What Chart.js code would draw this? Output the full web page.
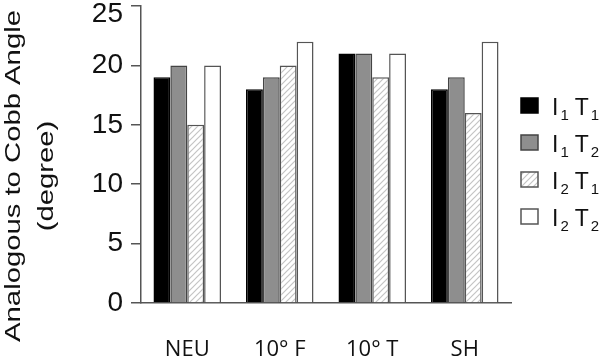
<!DOCTYPE html>
<html>
<head>
<meta charset="utf-8">
<script src="https://cdn.jsdelivr.net/npm/chart.js@4/dist/chart.umd.min.js"></script>
<style>
  body { margin: 0; background: #fff; }
  canvas { display: block; }
</style>
</head>
<body>
<canvas id="graphic" width="600" height="360"></canvas>
<script>
const categories = ['NEU', '10° F', '10° T', 'SH'];
const seriesNames = ['I1 T1', 'I1 T2', 'I2 T1', 'I2 T2'];
const i1t1 = [19, 18, 21, 18];
const i1t2 = [20, 19, 21, 19];
const i2t1 = [15, 20, 19, 16];
const i2t2 = [20, 22, 21, 22];
const yTicks = [0, 5, 10, 15, 20, 25];
const yTitle = ['Analogous to Cobb Angle', '(degree)'];

// light diagonal hatch for the I2 T1 bars
function makeHatch() {
  const c = document.createElement('canvas');
  c.width = 6;
  c.height = 6;
  const g = c.getContext('2d');
  g.fillStyle = '#fff';
  g.fillRect(0, 0, 6, 6);
  g.strokeStyle = '#c4c4c4';
  g.lineWidth = 1.2;
  g.beginPath();
  g.moveTo(-1, 7); g.lineTo(7, -1);
  g.moveTo(-4, 4); g.lineTo(4, -4);
  g.moveTo(2, 10); g.lineTo(10, 2);
  g.stroke();
  return g.createPattern(c, 'repeat');
}
const hatch = makeHatch();

const fills = ['#000000', '#8e8e8e', hatch, '#ffffff'];
const borders = ['#000000', '#444444', '#555555', '#555555'];
const values = [i1t1, i1t2, i2t1, i2t2];

// y title, two lines, drawn a bit wide like the original
const titlePlugin = {
  id: 'yTitle',
  afterDraw(chart) {
    const ctx = chart.ctx;
    const cy = 176;
    const baselines = [20, 53];
    ctx.save();
    ctx.fillStyle = '#111';
    ctx.font = '22px "Liberation Sans", Arial, sans-serif';
    ctx.textAlign = 'center';
    ctx.textBaseline = 'alphabetic';
    yTitle.forEach((line, i) => {
      ctx.save();
      ctx.translate(baselines[i], cy);
      ctx.rotate(-Math.PI / 2);
      ctx.scale(1.33, 1);
      ctx.fillText(line, 0, 0);
      ctx.restore();
    });
    ctx.restore();
  }
};

// legend with subscript digits
const legendPlugin = {
  id: 'subLegend',
  afterDraw(chart) {
    const ctx = chart.ctx;
    ctx.save();
    chart.data.datasets.forEach((ds, i) => {
      const top = 98 + i * 37;
      ctx.fillStyle = ds.backgroundColor;
      ctx.fillRect(521, top, 17, 15);
      ctx.strokeStyle = ds.borderColor;
      ctx.lineWidth = 1.5;
      ctx.strokeRect(521, top, 17, 15);

      let x = 552;
      const base = top + 17;
      ctx.fillStyle = '#111';
      ctx.textBaseline = 'alphabetic';
      ctx.textAlign = 'left';
      ds.label.split(' ').forEach((part) => {
        ctx.font = '23px "Liberation Sans", Arial, sans-serif';
        ctx.fillText(part[0], x, base);
        x += ctx.measureText(part[0]).width + 2;
        ctx.font = '15px "Liberation Sans", Arial, sans-serif';
        ctx.fillText(part.slice(1), x, base + 5);
        x += ctx.measureText(part.slice(1)).width + 6;
      });
    });
    ctx.restore();
  }
};

const tickFont = { family: '"Liberation Sans", Arial, sans-serif', size: 28 };

const graphicControler = new Chart(document.getElementById('graphic'), {
  type: 'bar',
  data: {
    labels: categories,
    datasets: seriesNames.map((name, i) => ({
      label: name,
      data: values[i],
      backgroundColor: fills[i],
      borderColor: borders[i],
      borderWidth: 1.5,
      barPercentage: 1,
      categoryPercentage: 0.73,
    })),
  },
  options: {
    responsive: false,
    animation: false,
    devicePixelRatio: 1,
    layout: { padding: { top: 6, right: 89, left: 0, bottom: 0 } },
    plugins: {
      legend: { display: false },
      tooltip: { enabled: false },
    },
    scales: {
      x: {
        grid: { display: false, drawTicks: false },
        border: { color: '#555', width: 1.5 },
        ticks: {
          color: '#111',
          padding: 34,
          font: { family: '"Open Sans", "Noto Sans", sans-serif', size: 22 },
        },
        afterFit(axis) { axis.height = 57; },
      },
      y: {
        min: yTicks[0],
        max: yTicks[yTicks.length - 1],
        grid: { drawOnChartArea: false, tickLength: 10, color: '#555', lineWidth: 1.5 },
        border: { color: '#555', width: 1.5 },
        ticks: {
          stepSize: 5,
          color: '#111',
          padding: 8,
          // top label sits a little below its tick, as in the original
          font: (c) => (c.tick && c.tick.value === yTicks[yTicks.length - 1]
            ? { ...tickFont, lineHeight: 0.58 } : tickFont),
          callback: (v) => (v === yTicks[yTicks.length - 1] ? ['', String(v)] : String(v)),
        },
        afterFit(axis) {
          axis.width = 141;
          axis.paddingTop = 0;
          axis.paddingBottom = 0;
        },
      },
    },
  },
  plugins: [titlePlugin, legendPlugin],
});
</script>
</body>
</html>
